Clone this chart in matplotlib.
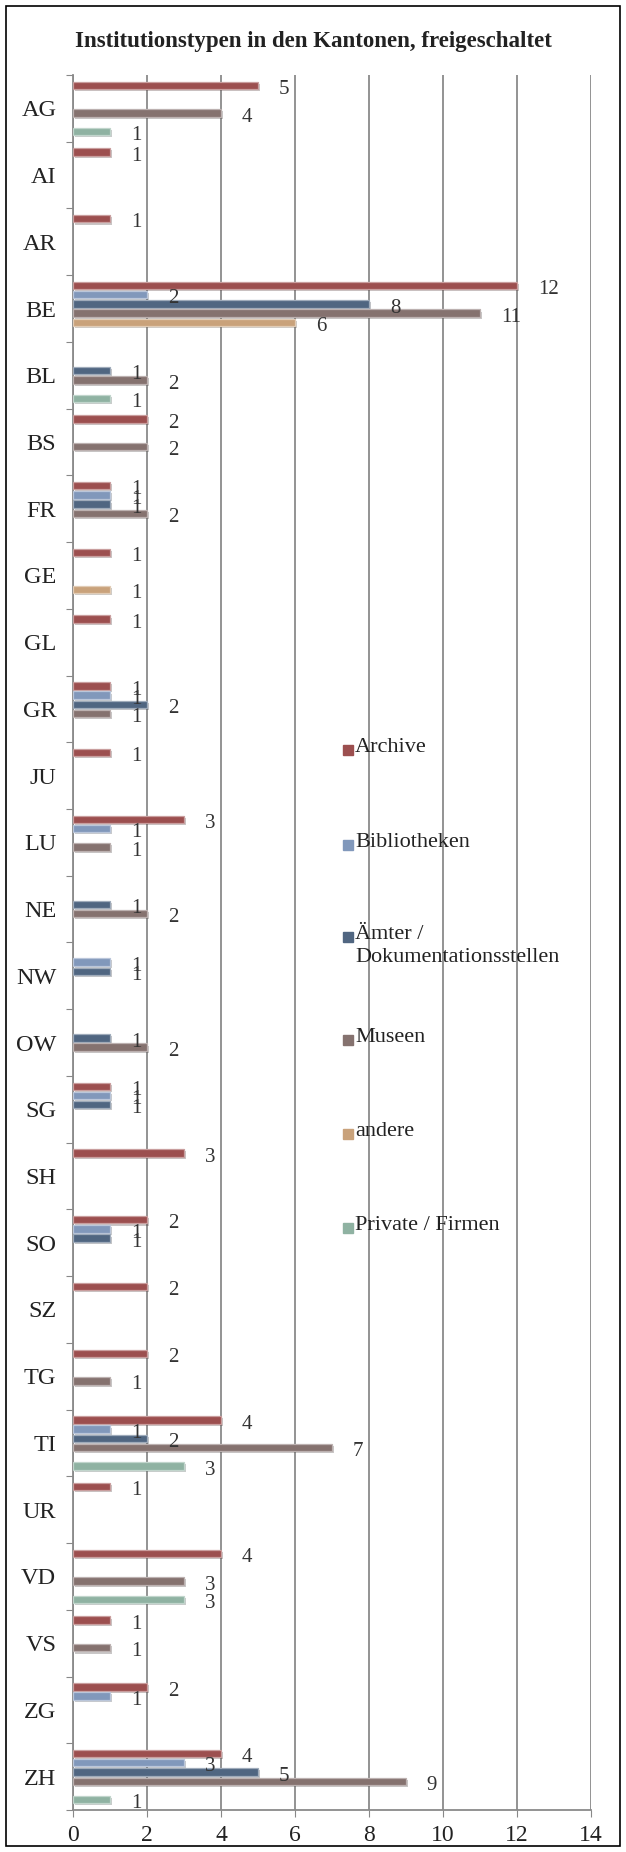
import numpy as np
import matplotlib.pyplot as plt
import matplotlib.patheffects as pe
from matplotlib.patches import Rectangle
from matplotlib.colors import to_rgb

plt.rcParams['font.family'] = ['Liberation Serif', 'DejaVu Serif']

cantons = ['AG', 'AI', 'AR', 'BE', 'BL', 'BS', 'FR', 'GE', 'GL', 'GR', 'JU', 'LU', 'NE',
           'NW', 'OW', 'SG', 'SH', 'SO', 'SZ', 'TG', 'TI', 'UR', 'VD', 'VS', 'ZG', 'ZH']

series = ['Archive', 'Bibliotheken', 'Ämter /\nDokumentationsstellen', 'Museen', 'andere',
          'Private / Firmen']

archive = [5, 1, 1, 12, 0, 2, 1, 1, 1, 1, 1, 3, 0, 0, 0, 1, 3, 2, 2, 2, 4, 1, 4, 1, 2, 4]
bibliotheken = [0, 0, 0, 2, 0, 0, 1, 0, 0, 1, 0, 1, 0, 1, 0, 1, 0, 1, 0, 0, 1, 0, 0, 0, 1, 3]
aemter = [0, 0, 0, 8, 1, 0, 1, 0, 0, 2, 0, 0, 1, 1, 1, 1, 0, 1, 0, 0, 2, 0, 0, 0, 0, 5]
museen = [4, 0, 0, 11, 2, 2, 2, 0, 0, 1, 0, 1, 2, 0, 2, 0, 0, 0, 0, 1, 7, 0, 3, 1, 0, 9]
andere = [0, 0, 0, 6, 0, 0, 0, 1, 0, 0, 0, 0, 0, 0, 0, 0, 0, 0, 0, 0, 0, 0, 0, 0, 0, 0]
private = [1, 0, 0, 0, 1, 0, 0, 0, 0, 0, 0, 0, 0, 0, 0, 0, 0, 0, 0, 0, 3, 0, 3, 0, 0, 1]

values = [archive, bibliotheken, aemter, museen, andere, private]
colors = ['#9c4f4f', '#8198bb', '#506681', '#85726f', '#c9a27b', '#8fb2a2']


def lighter(c, f=0.45):
    r, g, b = to_rgb(c)
    return (r + (1 - r) * f, g + (1 - g) * f, b + (1 - b) * f)


fig = plt.figure(figsize=(6.26, 18.52), dpi=100)
ax = fig.add_axes([0.1166, 0.0227, 0.8275, 0.9368])

y = np.arange(len(cantons))
slot = 0.138
for k, (vals, col) in enumerate(zip(values, colors)):
    vals = np.array(vals)
    mask = vals > 0
    pos = y[mask] + (k - 2.5) * slot
    bars = ax.barh(pos, vals[mask], height=slot * 0.8, color=col,
                   edgecolor=lighter(col), linewidth=0.9, zorder=3)
    for b in bars:
        b.set_path_effects([pe.SimplePatchShadow(offset=(1.5, -1.5), alpha=0.25), pe.Normal()])
    for p, v in zip(pos, vals[mask]):
        ax.annotate(str(v), (v, p), xytext=(15, -3), textcoords='offset points',
                    ha='left', va='center', fontsize=15, color='#333333', zorder=5)

ax.set_xlim(0, 14)
ax.set_ylim(len(cantons) - 0.5, -0.5)
ax.set_xticks(np.arange(0, 15, 2))
ax.set_xticklabels([str(t) for t in range(0, 15, 2)], fontsize=17, color='#222222')
ax.set_yticks(np.arange(-0.5, len(cantons), 1))
ax.set_yticklabels([])
ax.set_yticks(y, minor=True)
ax.set_yticklabels(cantons, minor=True, fontsize=17.5, color='#222222')
ax.tick_params(axis='y', which='major', length=5, color='#888888', direction='out')
ax.tick_params(axis='y', which='minor', length=0, pad=12)
ax.tick_params(axis='x', length=5, color='#888888', direction='out', pad=6)

ax.grid(True, axis='x', color='#8a8a8a', linewidth=1.3, zorder=0)
ax.set_axisbelow(True)
for s in ['top', 'right']:
    ax.spines[s].set_visible(False)
for s in ['left', 'bottom']:
    ax.spines[s].set_color('#8a8a8a')
    ax.spines[s].set_linewidth(1.3)

fig.suptitle('Institutionstypen in den Kantonen, freigeschaltet', x=0.5, y=0.9835,
             fontsize=16.5, fontweight='bold', color='#222222')

# legend drawn by hand so that the marker sits on the first text line
legend_y = [750, 845, 937, 1040, 1134, 1228]
for name, col, ly in zip(series, colors, legend_y):
    yy = 1 - ly / 1852
    fig.patches.append(Rectangle((343 / 626, yy - 0.0027), 10 / 626, 10 / 1852,
                                 transform=fig.transFigure, color=col, zorder=6))
    fig.text(355 / 626, yy + 0.0065, name, fontsize=16, color='#222222', va='top',
             ha='left', linespacing=1.3, zorder=6)

fig.patches.append(Rectangle((6 / 626, 6 / 1852), 614 / 626, 1840 / 1852,
                             transform=fig.transFigure, fill=False, edgecolor='black',
                             linewidth=1.2))

fig.savefig('out.png', dpi=100)
